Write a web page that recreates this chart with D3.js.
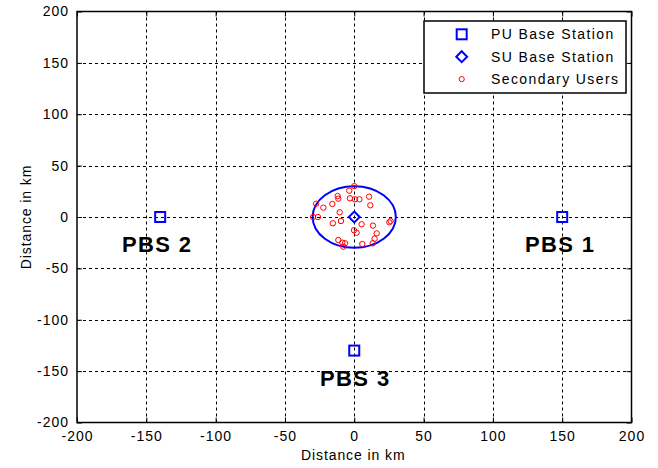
<!DOCTYPE html>
<html>
<head>
<meta charset="utf-8">
<script src="https://cdn.jsdelivr.net/npm/d3@7"></script>
<style>
  body { margin: 0; background: #fff; }
  svg { display: block; font-family: "Liberation Sans", Arial, sans-serif; }
</style>
</head>
<body>
<svg id="chart" width="658" height="468"></svg>
<script>
// axis ticks
var xTicks = [-200, -150, -100, -50, 0, 50, 100, 150, 200]
var yTicks = [-200, -150, -100, -50, 0, 50, 100, 150, 200]

// primary base stations (PBS 1..3)
var pbsNames = ["PBS 1", "PBS 2", "PBS 3"]
var pbsX = [150, -140, 0]
var pbsY = [0, 0, -130]

// secondary base station + coverage radius
var suBaseX = 0
var suBaseY = 0
var suRadius = 30

// secondary users
var userX = [0, -3.6, -12, -11.5, 10.7, -3.1, 0.5, 3.7, -27.5, -15.8, 11.6, -22.3, -10.5, -29.7, -26.2,
  26.2, 25.3, -9.6, -15.4, 5.3, 13.5, -0.2, 1.7, 16.2, 14.7, -11.5, -8.6, -6.7, 5.8, 13.3, -7.9]
var userY = [30, 25.6, 20.4, 17.8, 19.8, 18.2, 17.2, 17.2, 12.9, 12.7, 11.4, 9.1, 4.6, 0, 0,
  -3.9, -5.2, -3.9, -6.1, -7.1, -8.4, -12.9, -15.3, -15.9, -21.1, -22.4, -25, -25.6, -26.3, -25.6, -28.9]

var legendLabels = ["PU Base Station", "SU Base Station", "Secondary Users"]

var svg = d3.select("#chart")
var pLeft = 77, pRight = 631.5, pTop = 11.5, pBottom = 422.5

var x = d3.scaleLinear().domain([-200, 200]).range([pLeft, pRight])
var y = d3.scaleLinear().domain([-200, 200]).range([pBottom, pTop])
var plainNum = function(d){ return String(d) }

// dashed grid
var grid = svg.append("g").attr("stroke", "#000").attr("stroke-width", 1).attr("stroke-dasharray", "3,3")
grid.selectAll(".gx").data(xTicks.slice(1, -1)).enter().append("line")
	.attr("x1", function(d){ return Math.round(x(d)) + 0.5 })
	.attr("x2", function(d){ return Math.round(x(d)) + 0.5 })
	.attr("y1", pTop).attr("y2", pBottom)
grid.selectAll(".gy").data(yTicks.slice(1, -1)).enter().append("line")
	.attr("y1", function(d){ return Math.round(y(d)) + 0.5 })
	.attr("y2", function(d){ return Math.round(y(d)) + 0.5 })
	.attr("x1", pLeft).attr("x2", pRight)

// axes with inward ticks
var axisStyle = function(g){
	g.select(".domain").remove()
	g.selectAll(".tick line").attr("stroke", "#000")
	g.selectAll(".tick text").attr("fill", "#000").attr("font-size", 14).attr("letter-spacing", 1)
		.attr("font-family", "Liberation Sans, Arial, sans-serif")
}
svg.append("g").attr("transform", "translate(0," + pBottom + ")")
	.call(d3.axisBottom(x).tickValues(xTicks).tickFormat(plainNum).tickSizeInner(-5).tickSizeOuter(0).tickPadding(9))
	.call(axisStyle)
svg.append("g").attr("transform", "translate(" + pLeft + ",0)")
	.call(d3.axisLeft(y).tickValues(yTicks).tickFormat(plainNum).tickSizeInner(-5).tickSizeOuter(0).tickPadding(8))
	.call(axisStyle)
svg.append("g").attr("transform", "translate(0," + pTop + ")")
	.call(d3.axisTop(x).tickValues(xTicks).tickSizeInner(-5).tickSizeOuter(0).tickFormat(""))
	.call(axisStyle)
svg.append("g").attr("transform", "translate(" + pRight + ",0)")
	.call(d3.axisRight(y).tickValues(yTicks).tickSizeInner(-5).tickSizeOuter(0).tickFormat(""))
	.call(axisStyle)

svg.append("rect")
	.attr("x", pLeft).attr("y", pTop)
	.attr("width", pRight - pLeft).attr("height", pBottom - pTop)
	.attr("fill", "none").attr("stroke", "#000").attr("stroke-width", 1.5)

// coverage circle (looks like an ellipse because of the axis aspect)
svg.append("ellipse")
	.attr("cx", x(suBaseX)).attr("cy", y(suBaseY))
	.attr("rx", x(suRadius) - x(0)).attr("ry", y(0) - y(suRadius))
	.attr("fill", "none").attr("stroke", "#0000ff").attr("stroke-width", 2)

// secondary users
svg.append("g").selectAll("circle").data(userX).enter().append("circle")
	.attr("cx", function(d){ return x(d) })
	.attr("cy", function(d, i){ return y(userY[i]) })
	.attr("r", 2.7)
	.attr("fill", "none").attr("stroke", "#ff0000").attr("stroke-width", 1)

// SU base station diamond
var diamond = d3.symbol().type(d3.symbolDiamond2).size(75)
svg.append("path")
	.attr("d", diamond())
	.attr("transform", "translate(" + x(suBaseX) + "," + y(suBaseY) + ")")
	.attr("fill", "none").attr("stroke", "#0000ff").attr("stroke-width", 2)

// PU base stations
svg.append("g").selectAll("rect").data(pbsX).enter().append("rect")
	.attr("x", function(d){ return x(d) - 5 })
	.attr("y", function(d, i){ return y(pbsY[i]) - 5 })
	.attr("width", 10).attr("height", 10)
	.attr("fill", "none").attr("stroke", "#0000ff").attr("stroke-width", 2)

svg.append("g").selectAll("text").data(pbsNames).enter().append("text")
	.attr("x", function(d, i){ return x(pbsX[i]) + [-2, -3, 1][i] })
	.attr("y", function(d, i){ return y(pbsY[i]) + 35 })
	.attr("text-anchor", "middle")
	.attr("font-size", 22).attr("font-weight", "bold").attr("letter-spacing", 1.4)
	.text(function(d){ return d })

// axis labels
svg.append("text")
	.attr("x", x(0) - 1).attr("y", 460)
	.attr("text-anchor", "middle").attr("font-size", 14).attr("letter-spacing", 0.9)
	.text("Distance in km")
svg.append("text")
	.attr("transform", "translate(31," + y(0) + ") rotate(-90)")
	.attr("text-anchor", "middle").attr("font-size", 14).attr("letter-spacing", 0.9)
	.text("Distance in km")

// legend
var lg = svg.append("g").attr("transform", "translate(424,21)")
lg.append("rect").attr("width", 202).attr("height", 72)
	.attr("fill", "#fff").attr("stroke", "#000").attr("stroke-width", 1.5)
var rows = lg.selectAll(".row").data(legendLabels).enter().append("g")
	.attr("transform", function(d, i){ return "translate(0," + (13.3 + i * 22.4) + ")" })
rows.append("text")
	.attr("x", 67).attr("dy", "0.36em")
	.attr("font-size", 14).attr("letter-spacing", 1.4)
	.text(function(d){ return d })
rows.filter(function(d, i){ return i == 0 }).append("rect")
	.attr("x", 32.7).attr("y", -5).attr("width", 10).attr("height", 10)
	.attr("fill", "none").attr("stroke", "#0000ff").attr("stroke-width", 2)
rows.filter(function(d, i){ return i == 1 }).append("path")
	.attr("d", diamond())
	.attr("transform", "translate(37.7,0)")
	.attr("fill", "none").attr("stroke", "#0000ff").attr("stroke-width", 2)
rows.filter(function(d, i){ return i == 2 }).append("circle")
	.attr("cx", 37.7).attr("r", 2.6)
	.attr("fill", "none").attr("stroke", "#ff0000").attr("stroke-width", 1)
</script>
</body>
</html>
